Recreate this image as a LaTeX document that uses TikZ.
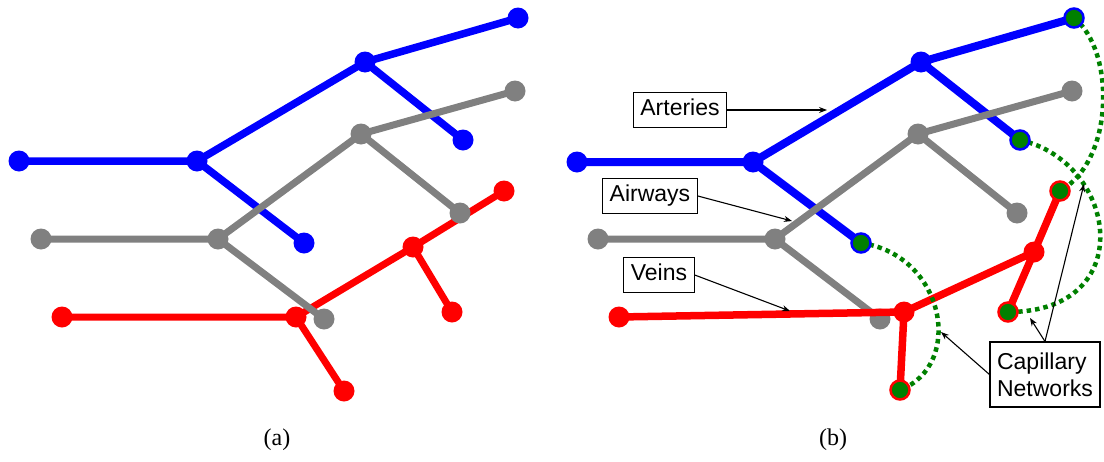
\documentclass[tikz,border=0pt]{standalone}
\usepackage{fontspec}
\setmainfont{Liberation Serif}
\newfontfamily\labelfont{Liberation Sans}
\usetikzlibrary{arrows.meta}

\definecolor{artery}{RGB}{0,0,255}
\definecolor{airway}{RGB}{128,128,128}
\definecolor{vein}{RGB}{255,0,0}
\definecolor{capgreen}{RGB}{0,128,0}

\begin{document}
\begin{tikzpicture}[x=1pt,y=-1pt,
  vessel/.style={line width=#1, line cap=round, line join=round},
  bdot/.style={circle, fill=artery, inner sep=0pt, minimum size=21pt},
  gdot/.style={circle, fill=airway, inner sep=0pt, minimum size=21pt},
  rdot/.style={circle, fill=vein, inner sep=0pt, minimum size=21pt},
  capend/.style={circle, fill=capgreen, draw=#1, line width=2.5pt, inner sep=0pt, minimum size=19pt},
  capillary/.style={draw=capgreen, line width=4.5pt, dash pattern=on 4.5pt off 4pt},
  tagbox/.style={draw, line width=1.2pt, font=\labelfont\fontsize{23}{27}\selectfont,
    inner xsep=7pt, align=left},
  tag/.style={tagbox, inner ysep=6.5pt, text height=17pt, text depth=5.5pt},
  pointer/.style={-{Stealth[length=8pt,width=6pt]}, line width=1.1pt},
  caption/.style={font=\fontsize{24}{28}\selectfont}]
\useasboundingbox (0,0) rectangle (1104,461);

% ---------------- panel (a) ----------------
% arteries
\coordinate (aA0) at (19,161);  \coordinate (aA1) at (197,161);
\coordinate (aA2) at (365,62);  \coordinate (aA3) at (518,18);
\coordinate (aA4) at (463,140); \coordinate (aA5) at (304,243);
\draw[artery, vessel=7.5pt] (aA0) -- (aA1) -- (aA2) -- (aA3) (aA2) -- (aA4) (aA1) -- (aA5);
\foreach \n in {aA0,aA1,aA2,aA3,aA4,aA5} \node[bdot] (\n dot) at (\n) {};
% veins
\coordinate (aV0) at (62,317);  \coordinate (aV1) at (296,317);
\coordinate (aV2) at (413,247); \coordinate (aV3) at (504,191);
\coordinate (aV4) at (452,312); \coordinate (aV5) at (344,391);
\draw[vein, vessel=7pt] (aV0) -- (aV1) -- (aV2) -- (aV3) (aV2) -- (aV4) (aV1) -- (aV5);
\foreach \n in {aV0,aV1,aV2,aV3,aV4,aV5} \node[rdot] (\n dot) at (\n) {};
% airways
\coordinate (aW0) at (41,239);  \coordinate (aW1) at (218,239);
\coordinate (aW2) at (361,134); \coordinate (aW3) at (515,91);
\coordinate (aW4) at (460,213); \coordinate (aW5) at (324,319);
\draw[airway, vessel=7pt] (aW0) -- (aW1) -- (aW2) -- (aW3) (aW2) -- (aW4) (aW1) -- (aW5);
\foreach \n in {aW0,aW1,aW2,aW3,aW4,aW5} \node[gdot] (\n dot) at (\n) {};

\node[caption] (capa) at (277,440) {(a)};

% ---------------- panel (b) ----------------
% arteries
\coordinate (bA0) at (577,162);  \coordinate (bA1) at (753,162);
\coordinate (bA2) at (921,62);   \coordinate (bA3) at (1074,18);
\coordinate (bA4) at (1020,140); \coordinate (bA5) at (861,243);
\draw[artery, vessel=8pt] (bA0) -- (bA1) -- (bA2) -- (bA3) (bA2) -- (bA4) (bA1) -- (bA5);
\foreach \n in {bA0,bA1,bA2} \node[bdot] (\n dot) at (\n) {};
% airways
\coordinate (bW0) at (598,239);  \coordinate (bW1) at (775,239);
\coordinate (bW2) at (918,134);  \coordinate (bW3) at (1072,91);
\coordinate (bW4) at (1017,213); \coordinate (bW5) at (880,319);
\draw[airway, vessel=7pt] (bW0) -- (bW1) -- (bW2) -- (bW3) (bW2) -- (bW4) (bW1) -- (bW5);
\foreach \n in {bW0,bW1,bW2,bW3,bW4,bW5} \node[gdot] (\n dot) at (\n) {};
% veins
\coordinate (bV0) at (619,317);  \coordinate (bV1) at (904,312);
\coordinate (bV2) at (1034,252); \coordinate (bV3) at (1060,191);
\coordinate (bV4) at (1008,312); \coordinate (bV5) at (900,390);
\draw[vein, vessel=7.5pt] (bV0) -- (bV1) -- (bV2) -- (bV3) (bV2) -- (bV4) (bV1) -- (bV5);
\foreach \n in {bV0,bV1,bV2} \node[rdot] (\n dot) at (\n) {};

% capillary networks joining artery tips to vein tips
\draw[capillary] (bA5) .. controls (945,255) and (965,365) .. (bV5);
\draw[capillary] (bA3) .. controls (1115,50) and (1115,160) .. (bV3);
\draw[capillary] (bA4) .. controls (1118,162) and (1140,312) .. (bV4);

\foreach \n in {bA3,bA4,bA5} \node[capend=artery] (\n dot) at (\n) {};
\foreach \n in {bV3,bV4,bV5} \node[capend=vein] (\n dot) at (\n) {};

% labels
\node[tag] (arteries) at (680,110) {Arteries};
\node[tag] (airways) at (650,196) {Airways};
\node[tag] (veins) at (659,275) {Veins};
\node[tagbox, inner ysep=10.5pt] (capnet) at (1045,374.5) {Capillary\\Networks};

\coordinate (tipA) at (827,110);
\coordinate (tipW) at (792,221);
\coordinate (tipV) at (790,311);
\coordinate (tipC1) at (941,332);
\coordinate (tipC2) at (1030,318);
\coordinate (tipC3) at (1084,184);

\draw[pointer] (arteries.east) -- (tipA);
\draw[pointer] (airways.east) -- (tipW);
\draw[pointer] (veins.east) -- (tipV);
\draw[pointer] (capnet.west) -- (tipC1);
\draw[pointer] (capnet.north) -- (tipC2);
\draw[pointer] (capnet.north) -- (tipC3);

\node[caption] (capb) at (833,440) {(b)};
\end{tikzpicture}
\end{document}
